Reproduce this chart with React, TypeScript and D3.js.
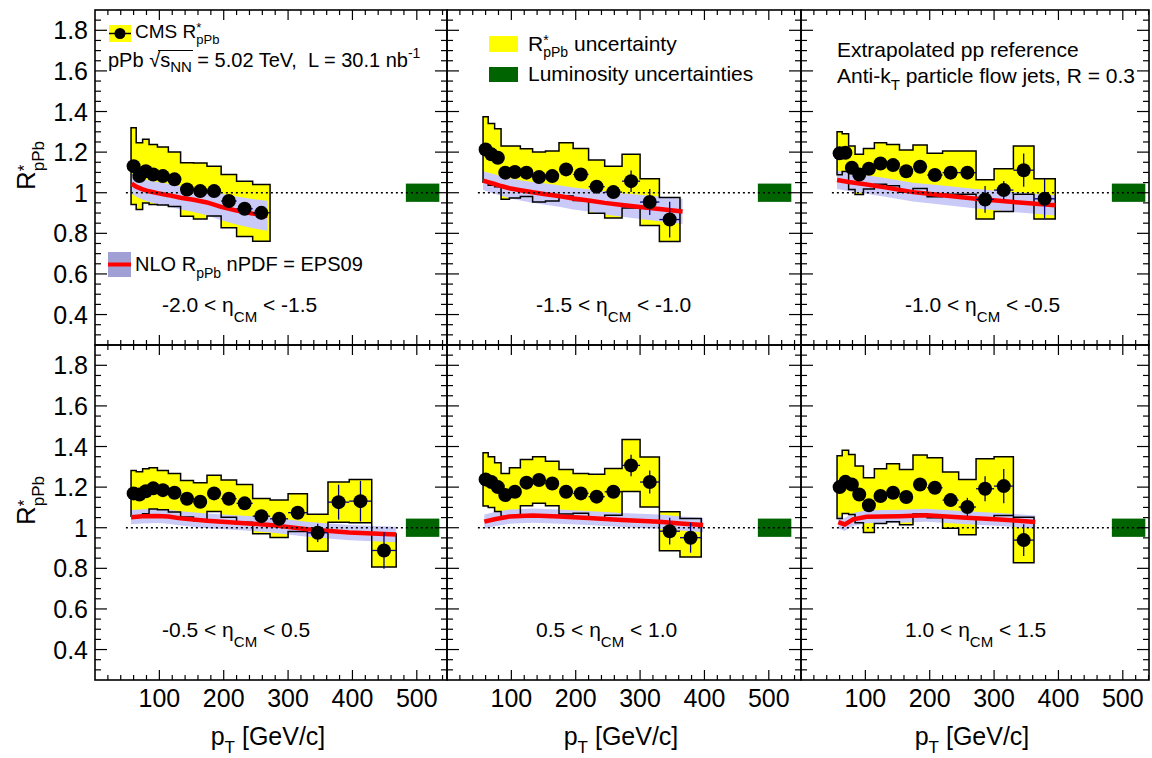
import React from "react";
import * as d3 from "d3";

const FONT = "'Liberation Sans', Arial, Helvetica, sans-serif";

// pT bin edges (GeV/c)
const BIN_EDGES = [56, 64, 74, 84, 97, 114, 133, 153, 174, 196, 220, 245, 272, 300, 330, 362, 395, 430, 468];
const X_TICKS = [100, 200, 300, 400, 500];
const Y_TICKS = [0.4, 0.6, 0.8, 1.0, 1.2, 1.4, 1.6, 1.8];
const ETA_LO = ["-2.0", "-1.5", "-1.0", "-0.5", "0.5", "1.0"];
const ETA_HI = ["-1.5", "-1.0", "-0.5", "0.5", "1.0", "1.5"];
const LUMI_UNC = 0.045;
const LUMI_PT = [483, 535];
const REF_PT = [48, 535];

// -2.0 < eta < -1.5
const R_ETA1 = [1.131, 1.082, 1.106, 1.09, 1.082, 1.066, 1.016, 1.008, 1.008, 0.959, 0.921, 0.901];
const SYS_ETA1 = [0.189, 0.164, 0.157, 0.148, 0.143, 0.134, 0.132, 0.138, 0.123, 0.131, 0.136, 0.14];
const STAT_ETA1 = [0.004, 0.004, 0.005, 0.005, 0.006, 0.006, 0.007, 0.008, 0.01, 0.013, 0.018, 0.033];
const NLO_PT_ETA1 = [57, 64, 74, 84, 97, 114, 133, 153, 174, 196, 220, 245, 268];
const NLO_ETA1 = [1.045, 1.03, 1.017, 1.007, 0.998, 0.988, 0.975, 0.965, 0.952, 0.93, 0.912, 0.897, 0.887];
const NLO_ERR_ETA1 = [0.05, 0.05, 0.052, 0.053, 0.055, 0.056, 0.058, 0.06, 0.063, 0.066, 0.069, 0.072, 0.074];

// -1.5 < eta < -1.0
const R_ETA2 = [1.213, 1.189, 1.172, 1.099, 1.102, 1.099, 1.077, 1.082, 1.115, 1.09, 1.03, 1.003, 1.057, 0.954, 0.868];
const SYS_ETA2 = [0.161, 0.152, 0.143, 0.131, 0.128, 0.118, 0.123, 0.123, 0.131, 0.128, 0.131, 0.128, 0.132, 0.115, 0.108];
const STAT_ETA2 = [0.004, 0.004, 0.005, 0.005, 0.006, 0.006, 0.007, 0.008, 0.01, 0.013, 0.022, 0.03, 0.053, 0.064, 0.088];
const NLO_PT_ETA2 = [56, 64, 74, 84, 97, 114, 133, 153, 174, 196, 220, 245, 272, 300, 330, 366];
const NLO_ETA2 = [1.06, 1.052, 1.043, 1.033, 1.022, 1.012, 1.002, 0.993, 0.984, 0.972, 0.962, 0.95, 0.94, 0.93, 0.92, 0.908];
const NLO_ERR_ETA2 = [0.047, 0.047, 0.048, 0.048, 0.049, 0.05, 0.051, 0.052, 0.053, 0.054, 0.055, 0.057, 0.058, 0.06, 0.061, 0.062];

// -1.0 < eta < -0.5
const R_ETA3 = [1.194, 1.197, 1.123, 1.09, 1.118, 1.144, 1.136, 1.106, 1.128, 1.087, 1.099, 1.099, 0.967, 1.013, 1.111, 0.97];
const SYS_ETA3 = [0.106, 0.093, 0.107, 0.099, 0.1, 0.102, 0.102, 0.104, 0.107, 0.107, 0.106, 0.106, 0.097, 0.105, 0.119, 0.099];
const STAT_ETA3 = [0.004, 0.004, 0.005, 0.005, 0.006, 0.006, 0.007, 0.008, 0.01, 0.013, 0.02, 0.03, 0.066, 0.045, 0.082, 0.098];
const NLO_PT_ETA3 = [56, 74, 97, 133, 174, 220, 272, 330, 395];
const NLO_ETA3 = [1.063, 1.053, 1.043, 1.025, 1.003, 0.988, 0.97, 0.954, 0.938];
const NLO_ERR_ETA3 = [0.045, 0.045, 0.045, 0.046, 0.046, 0.047, 0.048, 0.049, 0.05];

// -0.5 < eta < 0.5
const R_ETA4 = [1.169, 1.164, 1.18, 1.194, 1.185, 1.172, 1.143, 1.128, 1.169, 1.143, 1.12, 1.057, 1.044, 1.074, 0.975, 1.126, 1.131, 0.888];
const SYS_ETA4 = [0.113, 0.112, 0.111, 0.102, 0.097, 0.095, 0.09, 0.094, 0.089, 0.092, 0.093, 0.087, 0.092, 0.093, 0.091, 0.099, 0.107, 0.081];
const STAT_ETA4 = [0.004, 0.004, 0.005, 0.005, 0.006, 0.006, 0.007, 0.008, 0.01, 0.012, 0.015, 0.02, 0.02, 0.03, 0.045, 0.086, 0.1, 0.09];
const NLO_PT_ETA4 = [56, 74, 97, 114, 133, 174, 220, 272, 330, 395, 468];
const NLO_ETA4 = [1.052, 1.056, 1.058, 1.055, 1.046, 1.034, 1.025, 1.014, 0.992, 0.976, 0.967];
const NLO_ERR_ETA4 = [0.035, 0.035, 0.035, 0.035, 0.035, 0.036, 0.036, 0.037, 0.037, 0.038, 0.038];

// 0.5 < eta < 1.0
const R_ETA5 = [1.238, 1.225, 1.2, 1.161, 1.177, 1.222, 1.235, 1.218, 1.177, 1.169, 1.153, 1.177, 1.307, 1.225, 0.983, 0.951];
const SYS_ETA5 = [0.131, 0.125, 0.12, 0.106, 0.119, 0.114, 0.115, 0.11, 0.11, 0.098, 0.11, 0.115, 0.128, 0.123, 0.096, 0.095];
const STAT_ETA5 = [0.004, 0.004, 0.005, 0.005, 0.006, 0.006, 0.007, 0.008, 0.01, 0.013, 0.02, 0.025, 0.053, 0.057, 0.066, 0.074];
const NLO_PT_ETA5 = [58, 74, 97, 133, 174, 220, 272, 330, 362, 398];
const NLO_ETA5 = [1.03, 1.042, 1.055, 1.06, 1.055, 1.048, 1.038, 1.03, 1.021, 1.013];
const NLO_ERR_ETA5 = [0.035, 0.035, 0.035, 0.035, 0.035, 0.035, 0.035, 0.035, 0.035, 0.035];

// 1.0 < eta < 1.5
const R_ETA6 = [1.2, 1.226, 1.213, 1.164, 1.111, 1.156, 1.172, 1.151, 1.213, 1.197, 1.136, 1.102, 1.192, 1.205, 0.939];
const SYS_ETA6 = [0.155, 0.156, 0.148, 0.14, 0.135, 0.135, 0.143, 0.136, 0.145, 0.148, 0.138, 0.136, 0.148, 0.145, 0.112];
const STAT_ETA6 = [0.004, 0.004, 0.005, 0.005, 0.006, 0.006, 0.007, 0.008, 0.01, 0.013, 0.03, 0.045, 0.062, 0.084, 0.078];
const NLO_PT_ETA6 = [58, 68, 81, 102, 154, 195, 257, 309, 343, 364];
const NLO_ETA6 = [1.028, 1.016, 1.041, 1.054, 1.057, 1.061, 1.049, 1.041, 1.033, 1.028];
const NLO_ERR_ETA6 = [0.032, 0.032, 0.032, 0.032, 0.032, 0.032, 0.032, 0.032, 0.032, 0.032];

const PANELS = [
  { vals: R_ETA1, sys: SYS_ETA1, stat: STAT_ETA1, nloPt: NLO_PT_ETA1, nloVal: NLO_ETA1, nloErr: NLO_ERR_ETA1 },
  { vals: R_ETA2, sys: SYS_ETA2, stat: STAT_ETA2, nloPt: NLO_PT_ETA2, nloVal: NLO_ETA2, nloErr: NLO_ERR_ETA2 },
  { vals: R_ETA3, sys: SYS_ETA3, stat: STAT_ETA3, nloPt: NLO_PT_ETA3, nloVal: NLO_ETA3, nloErr: NLO_ERR_ETA3 },
  { vals: R_ETA4, sys: SYS_ETA4, stat: STAT_ETA4, nloPt: NLO_PT_ETA4, nloVal: NLO_ETA4, nloErr: NLO_ERR_ETA4 },
  { vals: R_ETA5, sys: SYS_ETA5, stat: STAT_ETA5, nloPt: NLO_PT_ETA5, nloVal: NLO_ETA5, nloErr: NLO_ERR_ETA5 },
  { vals: R_ETA6, sys: SYS_ETA6, stat: STAT_ETA6, nloPt: NLO_PT_ETA6, nloVal: NLO_ETA6, nloErr: NLO_ERR_ETA6 },
];

// layout
const COL_X = [95, 447, 801];
const COL_W = [352, 354, 348];
const ROW_Y = [10, 345];
const PANEL_H = 335;
const PX_PER_GEV = 0.6436;
const LABEL_DX = [67, 89, 104];
const LABEL_DY = [302, 292];

const YELLOW = "#ffff00";
const LAVENDER = "#cacaf8";
const LAVENDER_LEG = "#a0a0d4";
const GREEN = "#006400";
const RED = "#ff0000";
const NAVY = "#000080";

type Pt = { pt: number; v: number; e: number };

function Panel({ idx }: { idx: number }) {
  const d = PANELS[idx];
  const col = idx % 3;
  const row = Math.floor(idx / 3);
  const x0 = COL_X[col];
  const w = COL_W[col];
  const y0 = ROW_Y[row];
  const xMax = w / PX_PER_GEV;
  const x = d3.scaleLinear().domain([0, xMax]).range([x0, x0 + w]);
  const y = d3.scaleLinear().domain([0.25, 1.9]).range([y0 + PANEL_H, y0]);

  const bins = d.vals.map((v, i) => ({
    lo: BIN_EDGES[i],
    hi: BIN_EDGES[i + 1],
    c: (BIN_EDGES[i] + BIN_EDGES[i + 1]) / 2,
    v,
    s: d.sys[i],
    st: d.stat[i],
  }));
  const outline: [number, number][] = [];
  bins.forEach((b) => {
    outline.push([b.lo, b.v + b.s], [b.hi, b.v + b.s]);
  });
  [...bins].reverse().forEach((b) => {
    outline.push([b.hi, b.v - b.s], [b.lo, b.v - b.s]);
  });
  const poly = d3
    .line<[number, number]>()
    .x((p) => x(p[0]))
    .y((p) => y(p[1]))
    .curve(d3.curveLinearClosed)(outline) as string;

  const nlo: Pt[] = d.nloPt.map((pt, i) => ({ pt, v: d.nloVal[i], e: d.nloErr[i] }));
  const band = d3
    .area<Pt>()
    .x((p) => x(p.pt))
    .y0((p) => y(p.v - p.e))
    .y1((p) => y(p.v + p.e))(nlo) as string;
  const line = d3
    .line<Pt>()
    .x((p) => x(p.pt))
    .y((p) => y(p.v))(nlo) as string;

  const xMinor = d3.range(20, xMax, 20).filter((v) => v % 100 !== 0);
  const yMinor = d3
    .range(6, 38)
    .filter((k) => k % 4 !== 0)
    .map((k) => k * 0.05);
  const yb = y0 + PANEL_H;
  const xr = x0 + w;

  return (
    <g>
      <path d={poly} fill={YELLOW} stroke="none" />
      <path d={band} fill={LAVENDER} stroke="none" />
      <path d={poly} fill="none" stroke="#000" strokeWidth={1.5} />
      <path d={line} fill="none" stroke={RED} strokeWidth={4.5} />
      <rect
        x={x(LUMI_PT[0])}
        y={y(1 + LUMI_UNC)}
        width={x(LUMI_PT[1]) - x(LUMI_PT[0])}
        height={y(1 - LUMI_UNC) - y(1 + LUMI_UNC)}
        fill={GREEN}
      />
      <line
        x1={x(REF_PT[0])}
        x2={x(REF_PT[1])}
        y1={y(1)}
        y2={y(1)}
        stroke="#000"
        strokeWidth={1.5}
        strokeDasharray="2,3"
      />
      {bins.map((b, i) => (
        <g key={i}>
          <line x1={x(b.lo)} x2={x(b.hi)} y1={y(b.v)} y2={y(b.v)} stroke={NAVY} strokeWidth={1.3} />
          <line x1={x(b.c)} x2={x(b.c)} y1={y(b.v - b.st)} y2={y(b.v + b.st)} stroke={NAVY} strokeWidth={1.3} />
          <circle cx={x(b.c)} cy={y(b.v)} r={7} fill="#000" />
        </g>
      ))}
      {/* ticks */}
      {X_TICKS.map((t) => (
        <g key={"xm" + t}>
          <line x1={x(t)} x2={x(t)} y1={yb} y2={yb - 10} stroke="#000" strokeWidth={1.2} />
          <line x1={x(t)} x2={x(t)} y1={y0} y2={y0 + 10} stroke="#000" strokeWidth={1.2} />
        </g>
      ))}
      {xMinor.map((t) => (
        <g key={"xn" + t}>
          <line x1={x(t)} x2={x(t)} y1={yb} y2={yb - 5} stroke="#000" strokeWidth={1.2} />
          <line x1={x(t)} x2={x(t)} y1={y0} y2={y0 + 5} stroke="#000" strokeWidth={1.2} />
        </g>
      ))}
      {Y_TICKS.map((t) => (
        <g key={"ym" + t}>
          <line x1={x0} x2={x0 + 12} y1={y(t)} y2={y(t)} stroke="#000" strokeWidth={1.2} />
          <line x1={xr} x2={xr - 12} y1={y(t)} y2={y(t)} stroke="#000" strokeWidth={1.2} />
        </g>
      ))}
      {yMinor.map((t) => (
        <g key={"yn" + t}>
          <line x1={x0} x2={x0 + 6} y1={y(t)} y2={y(t)} stroke="#000" strokeWidth={1.2} />
          <line x1={xr} x2={xr - 6} y1={y(t)} y2={y(t)} stroke="#000" strokeWidth={1.2} />
        </g>
      ))}
      <rect x={x0} y={y0} width={w} height={PANEL_H} fill="none" stroke="#000" strokeWidth={1.6} />
      {/* tick labels */}
      {col === 0 &&
        Y_TICKS.map((t) => (
          <text key={"yl" + t} x={88} y={y(t) + 9} fontSize={25} textAnchor="end">
            {t === 1 ? "1" : t.toFixed(1)}
          </text>
        ))}
      {row === 1 &&
        X_TICKS.map((t) => (
          <text key={"xl" + t} x={x(t)} y={707} fontSize={25} textAnchor="middle">
            {t}
          </text>
        ))}
      {row === 1 && (
        <text x={x0 + w / 2 - 3} y={745} fontSize={25} textAnchor="middle">
          p
          <tspan fontSize={17} dy={8}>
            T
          </tspan>
          <tspan dy={-8} fontSize={25}>
            {" [GeV/c]"}
          </tspan>
        </text>
      )}
      {col === 0 && (
        <g transform={`translate(35, ${y0 + 180}) rotate(-90)`}>
          <text x={0} y={0} fontSize={26}>
            R
            <tspan fontSize={17} dy={-5}>
              *
            </tspan>
            <tspan fontSize={17} dx={-6.6} dy={14}>
              pPb
            </tspan>
          </text>
        </g>
      )}
      {/* eta label */}
      <text x={x0 + LABEL_DX[col]} y={y0 + LABEL_DY[row]} fontSize={21} style={{ whiteSpace: "pre" }}>
        {ETA_LO[idx] + " < η"}
        <tspan fontSize={15} dy={10}>
          CM
        </tspan>
        <tspan fontSize={21} dy={-10}>
          {" < " + ETA_HI[idx]}
        </tspan>
      </text>
    </g>
  );
}

export default function App() {
  return (
    <svg
      width={1152}
      height={758}
      style={{ position: "absolute", left: 0, top: 0, background: "#fff" }}
      fontFamily={FONT}
    >
      <rect x={0} y={0} width={1152} height={758} fill="#fff" />
      {PANELS.map((_, i) => (
        <Panel key={i} idx={i} />
      ))}

      {/* Panel 1 legends */}
      <rect x={109} y={25} width={22} height={17} fill={YELLOW} />
      <line x1={109} x2={131} y1={33.5} y2={33.5} stroke="#000" strokeWidth={1.5} />
      <circle cx={120} cy={33.5} r={5.5} fill="#000" />
      <text x={135} y={38} fontSize={19}>
        CMS R
        <tspan fontSize={13} dy={-6}>
          *
        </tspan>
        <tspan fontSize={13} dx={-5} dy={12}>
          pPb
        </tspan>
      </text>
      <text x={108} y={67} fontSize={20} style={{ whiteSpace: "pre" }}>
        {"pPb "}
        <tspan>√</tspan>
        <tspan>s</tspan>
        <tspan fontSize={15} dy={5}>
          NN
        </tspan>
        <tspan fontSize={20} dy={-5}>
          {" = 5.02 TeV,  L = 30.1 nb"}
        </tspan>
        <tspan fontSize={14} dy={-9}>
          -1
        </tspan>
      </text>
      <line x1={158} x2={193} y1={50.5} y2={50.5} stroke="#000" strokeWidth={1.2} />

      <rect x={108} y={252} width={23} height={25} fill={LAVENDER_LEG} />
      <line x1={108} x2={131} y1={264.5} y2={264.5} stroke={RED} strokeWidth={4} />
      <text x={135} y={271} fontSize={20} style={{ whiteSpace: "pre" }}>
        NLO R
        <tspan fontSize={14} dy={7}>
          pPb
        </tspan>
        <tspan fontSize={20} dy={-7}>
          {" nPDF = EPS09"}
        </tspan>
      </text>

      {/* Panel 2 legends */}
      <rect x={489} y={36} width={29} height={16} fill={YELLOW} />
      <text x={528} y={51} fontSize={21}>
        R
        <tspan fontSize={14} dy={-6}>
          *
        </tspan>
        <tspan fontSize={14} dx={-5.4} dy={12}>
          pPb
        </tspan>
        <tspan fontSize={21} dy={-6}>
          {" uncertainty"}
        </tspan>
      </text>
      <rect x={489} y={67} width={29} height={15} fill={GREEN} />
      <text x={528} y={81} fontSize={21}>
        Luminosity uncertainties
      </text>

      {/* Panel 3 text */}
      <text x={837} y={57} fontSize={21}>
        Extrapolated pp reference
      </text>
      <text x={837} y={83} fontSize={21} style={{ whiteSpace: "pre" }}>
        Anti-k
        <tspan fontSize={15} dy={7}>
          T
        </tspan>
        <tspan fontSize={21} dy={-7}>
          {" particle flow jets, R = 0.3"}
        </tspan>
      </text>
    </svg>
  );
}
